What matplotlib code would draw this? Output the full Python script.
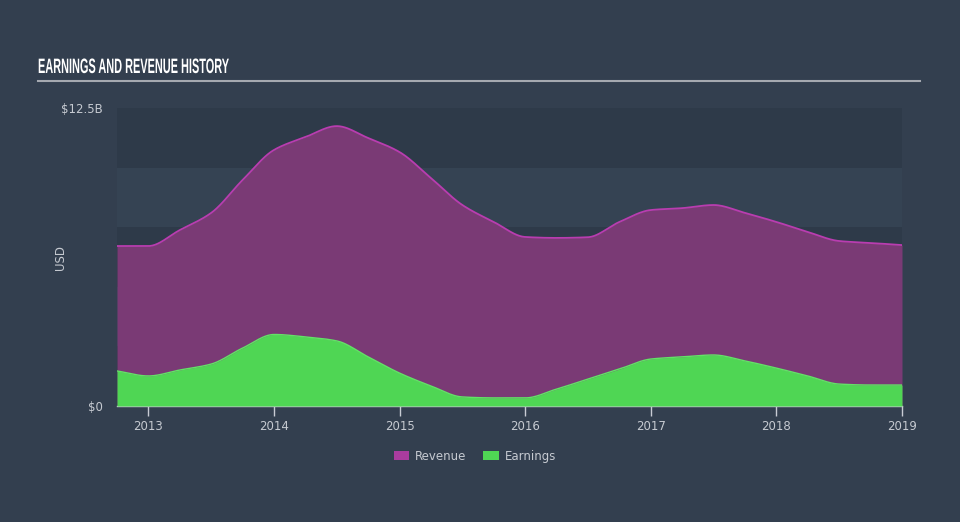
import numpy as np
import matplotlib
matplotlib.use('Agg')
import matplotlib.pyplot as plt
from matplotlib.patches import Patch
from matplotlib import patheffects
from matplotlib.transforms import Affine2D

# quarterly readings, billions USD
dates = [2012.75, 2013.0, 2013.25, 2013.5, 2013.75, 2014.0, 2014.25, 2014.5,
         2014.75, 2015.0, 2015.25, 2015.5, 2015.75, 2016.0, 2016.25, 2016.5,
         2016.75, 2017.0, 2017.25, 2017.5, 2017.75, 2018.0, 2018.25, 2018.5,
         2018.75, 2019.0]
revenue = [6.71, 6.71, 7.38, 8.10, 9.48, 10.74, 11.28, 11.74,
           11.24, 10.65, 9.56, 8.43, 7.72, 7.09, 7.05, 7.08,
           7.72, 8.22, 8.30, 8.43, 8.10, 7.72, 7.30, 6.92,
           6.84, 6.75]
earnings = [1.47, 1.26, 1.51, 1.76, 2.43, 3.00, 2.90, 2.73,
            2.06, 1.38, 0.84, 0.38, 0.34, 0.34, 0.71, 1.13,
            1.55, 1.97, 2.06, 2.14, 1.89, 1.59, 1.26, 0.92,
            0.88, 0.88]
years = [2013, 2014, 2015, 2016, 2017, 2018, 2019]

BG = '#333f4f'
BAND_DARK = '#2e3a49'
BAND_LIGHT = '#354353'
TXT = '#c6cad1'
REV_FILL = '#7a3a75'
REV_LINE = '#b93db0'
EARN_FILL = '#4fd654'
EARN_LINE = '#62e366'


def smooth(x, y, n=600):
    # monotone cubic (Fritsch-Carlson) just for drawing
    x = np.asarray(x, float)
    y = np.asarray(y, float)
    h = np.diff(x)
    d = np.diff(y) / h
    m = np.zeros_like(y)
    m[0], m[-1] = d[0], d[-1]
    for i in range(1, len(y) - 1):
        if d[i - 1] * d[i] > 0:
            w1 = 2 * h[i] + h[i - 1]
            w2 = h[i] + 2 * h[i - 1]
            m[i] = (w1 + w2) / (w1 / d[i - 1] + w2 / d[i])
    xs = np.linspace(x[0], x[-1], n)
    k = np.clip(np.searchsorted(x, xs) - 1, 0, len(x) - 2)
    t = (xs - x[k]) / h[k]
    h00 = 2 * t**3 - 3 * t**2 + 1
    h10 = t**3 - 2 * t**2 + t
    h01 = -2 * t**3 + 3 * t**2
    h11 = t**3 - t**2
    ys = h00 * y[k] + h10 * h[k] * m[k] + h01 * y[k + 1] + h11 * h[k] * m[k + 1]
    return xs, ys


class Squeeze(patheffects.AbstractPathEffect):
    """Narrow the glyphs horizontally around x0 (display px) - fake condensed font."""

    def __init__(self, sx, x0):
        super().__init__()
        self.sx = sx
        self.x0 = x0

    def draw_path(self, renderer, gc, tpath, affine, rgbFace=None):
        squeeze = Affine2D().translate(-self.x0, 0).scale(self.sx, 1).translate(self.x0, 0)
        renderer.draw_path(gc, tpath, affine + squeeze, rgbFace)


fig = plt.figure(figsize=(9.6, 5.22), dpi=100, facecolor=BG)
ax = fig.add_axes([117 / 960, 1 - 406 / 522, 785 / 960, 298 / 522])
ax.set_facecolor(BG)

# --- background bands ---
for i, lo in enumerate(np.arange(0, 12.5, 2.5)):
    ax.axhspan(lo, lo + 2.5, color=BAND_DARK if i % 2 == 0 else BAND_LIGHT,
               lw=0, zorder=0)

# --- areas ---
xr, yr = smooth(dates, revenue)
xe, ye = smooth(dates, earnings)
ax.fill_between(xr, 0, yr, color=REV_FILL, lw=0, zorder=2)
ax.plot(xr, yr, color=REV_LINE, lw=1.3, zorder=3)
ax.fill_between(xe, 0, ye, color=EARN_FILL, lw=0, zorder=4)
ax.plot(xe, ye, color=EARN_LINE, lw=1.0, zorder=5)

ax.set_xlim(dates[0], dates[-1])
ax.set_ylim(0, 12.5)

for s in ['top', 'right', 'left']:
    ax.spines[s].set_visible(False)
ax.spines['bottom'].set_color('#c8ccd4')
ax.spines['bottom'].set_linewidth(1.0)

ax.set_xticks(years)
ax.set_xticklabels([str(y) for y in years])
ax.tick_params(axis='x', colors='#c8ccd4', labelcolor=TXT, labelsize=8.5,
               length=7, width=1, pad=3)
ax.set_yticks([0, 12.5])
ax.set_yticklabels(['$0', '$12.5B'])
ax.tick_params(axis='y', length=0, labelcolor=TXT, labelsize=8.5, pad=10.5)
ax.set_ylabel('USD', color=TXT, fontsize=8.5)
ax.yaxis.set_label_coords((67 - 117) / 785, 0.5)

# --- title ---
title = fig.text(38 / 960, 1 - 67.5 / 522, 'EARNINGS AND REVENUE HISTORY',
                 family='Liberation Sans', fontweight='bold',
                 fontsize=15, color='white', va='center', ha='left')
fig.canvas.draw()
tw = title.get_window_extent().width
title.set_path_effects([Squeeze(191.0 / tw, 38.0)])
fig.add_artist(plt.Line2D([38 / 960, 920 / 960], [1 - 81 / 522, 1 - 81 / 522],
                          color='#a5a9b0', lw=1.5))

# --- legend ---
handles = [Patch(facecolor='#aa3c9f', label='Revenue'),
           Patch(facecolor=EARN_FILL, label='Earnings')]
fig.legend(handles=handles, loc='center', bbox_to_anchor=(475 / 960, 1 - 456 / 522),
           ncol=2, frameon=False, fontsize=8.5, labelcolor=TXT,
           handlelength=1.3, handleheight=0.9, columnspacing=1.4, handletextpad=0.5)

fig.savefig('out.png', dpi=100, facecolor=BG)
